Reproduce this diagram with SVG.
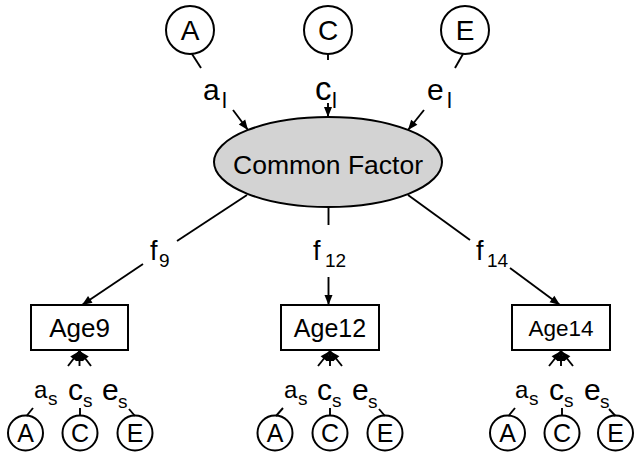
<svg xmlns="http://www.w3.org/2000/svg" width="635" height="457" viewBox="0 0 635 457">
<defs>
<style>
text{font-family:"Liberation Sans",Arial,sans-serif;fill:#000}
.nd{fill:#fff;stroke:#000;stroke-width:2}
.ln{fill:none;stroke:#000;stroke-width:1.9}
.ar{fill:none;stroke:#000;stroke-width:1.9;marker-end:url(#ah)}
.big{font-size:28px;text-anchor:middle}
.sm{font-size:25px;text-anchor:middle}
</style>
<marker id="ah" viewBox="0 0 10 10" refX="10" refY="5" markerWidth="10" markerHeight="10" markerUnits="userSpaceOnUse" orient="auto" style="overflow:visible">
<path d="M0,1 L10,5 L0,9 Z" fill="#000"/>
</marker>
</defs>
<rect width="635" height="457" fill="#fff"/>

<g id="topA"><circle class="nd" cx="190" cy="30" r="24"/><text class="big" x="190" y="40">A</text></g>
<g id="topC"><circle class="nd" cx="328" cy="30" r="24"/><text class="big" x="328" y="40">C</text></g>
<g id="topE"><circle class="nd" cx="465" cy="30" r="24"/><text class="big" x="465" y="40">E</text></g>

<g id="common"><ellipse cx="328" cy="162" rx="114" ry="45" fill="#d3d3d3" stroke="#000" stroke-width="2"/><text x="328" y="174" font-size="26.5" text-anchor="middle">Common Factor</text></g>

<g id="age9"><rect class="nd" x="31" y="305" width="97" height="45"/><text x="79.5" y="337" font-size="26" text-anchor="middle">Age9</text></g>
<g id="age12"><rect class="nd" x="281" y="305" width="98" height="45"/><text x="330" y="337" font-size="25" text-anchor="middle">Age12</text></g>
<g id="age14"><rect class="nd" x="512" y="305" width="98" height="45"/><text x="561" y="336" font-size="22.5" text-anchor="middle">Age14</text></g>

<g id="a9A"><circle class="nd" cx="25.5" cy="433" r="17.5"/><text class="sm" x="25.5" y="442">A</text></g>
<g id="a9C"><circle class="nd" cx="80" cy="433" r="17.5"/><text class="sm" x="80" y="442">C</text></g>
<g id="a9E"><circle class="nd" cx="135" cy="433" r="17.5"/><text class="sm" x="135" y="442">E</text></g>
<g id="a12A"><circle class="nd" cx="275" cy="433" r="17.5"/><text class="sm" x="275" y="442">A</text></g>
<g id="a12C"><circle class="nd" cx="330" cy="433" r="17.5"/><text class="sm" x="330" y="442">C</text></g>
<g id="a12E"><circle class="nd" cx="385" cy="433" r="17.5"/><text class="sm" x="385" y="442">E</text></g>
<g id="a14A"><circle class="nd" cx="507.5" cy="433" r="17.5"/><text class="sm" x="507.5" y="442">A</text></g>
<g id="a14C"><circle class="nd" cx="562" cy="433" r="17.5"/><text class="sm" x="562" y="442">C</text></g>
<g id="a14E"><circle class="nd" cx="615.5" cy="433" r="17.5"/><text class="sm" x="615.5" y="442">E</text></g>

<g id="connectors">
<line class="ln" x1="192" y1="54" x2="201" y2="68"/>
<line class="ar" x1="233" y1="110" x2="248" y2="130"/>
<line class="ln" x1="328" y1="54" x2="328" y2="60"/>
<line class="ar" x1="328" y1="103" x2="328" y2="117"/>
<line class="ln" x1="463" y1="54" x2="455" y2="68"/>
<line class="ar" x1="424" y1="110" x2="408" y2="130"/>

<line class="ln" x1="247" y1="195" x2="177" y2="241"/>
<line class="ar" x1="143" y1="264" x2="82" y2="305"/>
<line class="ln" x1="328.5" y1="207" x2="328.5" y2="225"/>
<line class="ar" x1="328.5" y1="277" x2="328.5" y2="305"/>
<line class="ln" x1="408" y1="195" x2="470" y2="240"/>
<line class="ar" x1="510" y1="268" x2="560" y2="305"/>

<g id="res9">
<line class="ar" x1="68" y1="366" x2="79.5" y2="351"/>
<line class="ar" x1="79.5" y1="366" x2="79.5" y2="351"/>
<line class="ar" x1="91" y1="366" x2="79.5" y2="351"/>
<line class="ln" x1="26.5" y1="416" x2="33" y2="408"/>
<line class="ln" x1="80" y1="415.5" x2="80" y2="408"/>
<line class="ln" x1="135" y1="416" x2="129" y2="409"/>
</g>
<g id="res12">
<line class="ar" x1="318" y1="366" x2="330" y2="351"/>
<line class="ar" x1="330" y1="366" x2="330" y2="351"/>
<line class="ar" x1="342" y1="366" x2="330" y2="351"/>
<line class="ln" x1="276" y1="416" x2="283" y2="408"/>
<line class="ln" x1="330" y1="415.5" x2="330" y2="408"/>
<line class="ln" x1="385" y1="416" x2="379" y2="409"/>
</g>
<g id="res14">
<line class="ar" x1="549" y1="366" x2="561" y2="351"/>
<line class="ar" x1="561" y1="366" x2="561" y2="351"/>
<line class="ar" x1="573" y1="366" x2="561" y2="351"/>
<line class="ln" x1="508.5" y1="416" x2="515" y2="408"/>
<line class="ln" x1="562" y1="415.5" x2="562" y2="408"/>
<line class="ln" x1="615.5" y1="416" x2="609" y2="409"/>
</g>
</g>

<g id="labels">
<text x="203" y="100" font-size="30">a</text><text x="222" y="108" font-size="22">l</text>
<text x="315" y="100" font-size="33">c</text><text x="332" y="108" font-size="22">l</text>
<text x="427" y="100" font-size="30">e</text><text x="447" y="108" font-size="22">l</text>

<text x="150" y="260" font-size="27">f</text><text x="159" y="267" font-size="19">9</text>
<text x="313" y="260" font-size="27">f</text><text x="325" y="267" font-size="19">12</text>
<text x="476" y="260" font-size="27">f</text><text x="487" y="267" font-size="19">14</text>

<text x="34" y="398" font-size="24">a</text><text x="48" y="405" font-size="19">s</text>
<text x="68" y="400" font-size="30">c</text><text x="83" y="407" font-size="19">s</text>
<text x="102" y="400" font-size="30">e</text><text x="118" y="408" font-size="19">s</text>

<text x="284" y="398" font-size="24">a</text><text x="298" y="405" font-size="19">s</text>
<text x="317" y="400" font-size="30">c</text><text x="332" y="407" font-size="19">s</text>
<text x="352" y="400" font-size="30">e</text><text x="368" y="408" font-size="19">s</text>

<text x="515" y="398" font-size="24">a</text><text x="529" y="405" font-size="19">s</text>
<text x="549" y="400" font-size="30">c</text><text x="564" y="407" font-size="19">s</text>
<text x="584" y="400" font-size="30">e</text><text x="600" y="408" font-size="19">s</text>
</g>
</svg>
